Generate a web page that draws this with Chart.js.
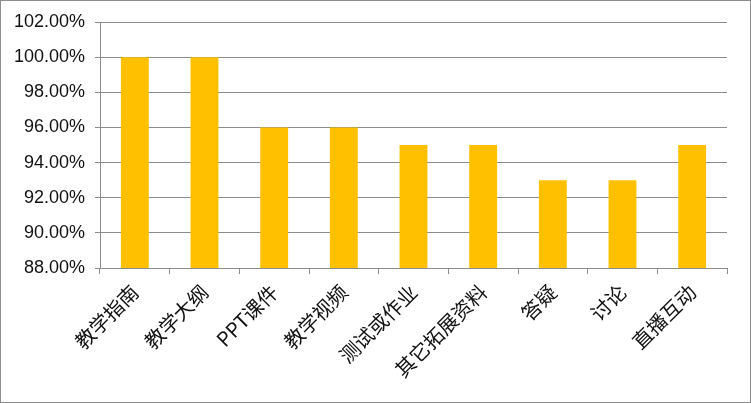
<!DOCTYPE html>
<html>
<head>
<meta charset="utf-8">
<script src="https://cdn.jsdelivr.net/npm/chart.js@4"></script>
<style>
  body { margin: 0; background: #fff; }
  #wrap { width: 751px; height: 403px; box-sizing: border-box; border: 1px solid #8c8c8c; }
</style>
</head>
<body>
<div id="wrap"><canvas id="grafico" width="749" height="401"></canvas></div>
<script>
const categorias = ["教学指南", "教学大纲", "PPT课件", "教学视频", "测试或作业", "其它拓展资料", "答疑", "讨论", "直播互动"];
const valores = [100, 100, 96, 96, 95, 95, 93, 93, 95];
const ejeMin = 88;
const ejeMax = 102;
const paso = 2;

const gris = "#8c8c8c";
const ctx = document.getElementById("grafico").getContext("2d");

new Chart(ctx, {
  type: "bar",
  data: {
    labels: categorias,
    datasets: [{
      data: valores,
      backgroundColor: "#FFC000",
      categoryPercentage: 1,
      barPercentage: 0.4
    }]
  },
  options: {
    responsive: false,
    animation: false,
    layout: { padding: { top: 21, right: 23, left: 0, bottom: 0 } },
    plugins: { legend: { display: false }, tooltip: { enabled: false } },
    scales: {
      x: {
        afterFit: s => { s.height = 134; },
        grid: { drawOnChartArea: false, drawTicks: true, tickLength: 6, color: gris, offset: true },
        border: { color: gris },
        ticks: {
          color: "#111",
          font: { family: "'Noto Sans CJK SC', 'Liberation Sans', sans-serif", size: 20 },
          maxRotation: 45,
          minRotation: 45,
          padding: 6
        }
      },
      y: {
        min: ejeMin,
        max: ejeMax,
        afterFit: s => { s.width = 99; },
        grid: { color: gris, tickLength: 5 },
        border: { color: gris },
        ticks: {
          stepSize: paso,
          color: "#111",
          padding: 10,
          font: { family: "'Liberation Sans', Arial, sans-serif", size: 18 },
          callback: v => v.toFixed(2) + "%"
        }
      }
    }
  }
});
</script>
</body>
</html>
